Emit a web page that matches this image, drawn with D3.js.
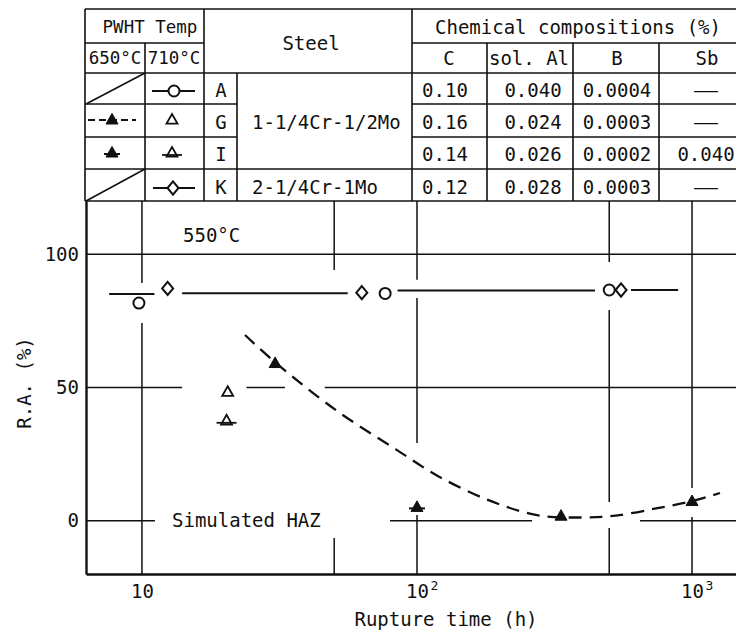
<!DOCTYPE html>
<html><head><meta charset="utf-8">
<script src="https://cdn.jsdelivr.net/npm/d3@7"></script>
<style>
html,body{margin:0;padding:0;background:#fff;}
svg{display:block;font-family:"DejaVu Sans Mono",monospace;}
</style></head><body>
<svg id="chart" width="736" height="632"></svg>
<script>
// ---------------- data ----------------
const xDomain = [6.26, 1445];
const yDomain = [-20, 120];
const xTicks = [10, 100, 1000];
const xTickBase = ["10", "10", "10"];
const xTickExp = ["", "2", "3"];
const yTicks = [0, 50, 100];

const steelCodes = ["A", "G", "I", "K"];
const steelNames = ["1-1/4Cr-1/2Mo", "2-1/4Cr-1Mo"];
const compHeaders = ["C", "sol. Al", "B", "Sb"];
const compC  = ["0.10", "0.16", "0.14", "0.12"];
const compAl = ["0.040", "0.024", "0.026", "0.028"];
const compB  = ["0.0004", "0.0003", "0.0002", "0.0003"];
const compSb = ["—", "—", "0.040", "—"];

// [rupture time (h), R.A. (%)]
const seriesA710 = [[9.75, 81.7], [76.6, 85.3], [500, 86.6]];
const seriesK710 = [[12.4, 87.2], [63, 85.6], [552, 86.6]];
const seriesG710 = [[20.5, 48.2]];
const seriesI710 = [[20.3, 37.5]];
const seriesG650 = [[30.5, 59.0], [334, 1.7], [1000, 7.2]];
const seriesI650 = [[100, 5.0]];
const trendG650 = [[23.7, 69.7], [30.7, 59.2], [51.2, 41.2], [84.6, 26.5], [119, 16.8],
                   [181, 7.8], [273, 2.1], [391, 1.2], [516, 1.8], [740, 4.6], [1000, 7.4], [1264, 10.4]];
// solid level line for 710°C: [t start, t end, R.A.]
const levelLine = [[7.6, 11.1, 85.1], [14, 56, 85.4], [85, 444, 86.4], [600, 890, 86.6]];

// grid segments (broken as in the original drawing)
const gridH = [
  {v: 100, segs: [[6.26, 1445]]},
  {v: 50,  segs: [[6.26, 14], [24, 33.1], [46.2, 1445]]},
  {v: 0,   segs: [[6.26, 11.15], [79.8, 262], [647, 1445]]}
];
const gridV = [
  {t: 10,   segs: [[120, 89.2], [74.2, -20]]},
  {t: 50,   segs: [[120, 94.1], [-6.5, -20]]},
  {t: 100,  segs: [[120, 90.4], [83.6, 29.2], [2.1, -20]]},
  {t: 500,  segs: [[120, 97.1], [79.1, 7.0], [-2.7, -20]]},
  {t: 1000, segs: [[120, 12.3], [1.4, -20]]}
];

// ---------------- layout ----------------
const svg = d3.select("#chart");
const INK = "#111";
const FS = 19;
const plot = {left: 86, right: 736, top: 201, bottom: 574};
const x = d3.scaleLog().domain(xDomain).range([plot.left, plot.right]);
const y = d3.scaleLinear().domain(yDomain).range([plot.bottom, plot.top]);

// custom symbol types (size = nominal width in px)
const triType = {draw(ctx, size) { const w = size; const h = w * 0.88;
  ctx.moveTo(0, -h * 0.62); ctx.lineTo(w / 2, h * 0.38); ctx.lineTo(-w / 2, h * 0.38); ctx.closePath(); }};
const diaType = {draw(ctx, size) { const w = size * 0.5, h = size * 0.6;
  ctx.moveTo(0, -h); ctx.lineTo(w, 0); ctx.lineTo(0, h); ctx.lineTo(-w, 0); ctx.closePath(); }};
const circType = {draw(ctx, size) { ctx.moveTo(size / 2, 0); ctx.arc(0, 0, size / 2, 0, 2 * Math.PI); }};

function marker(g, kind, cx, cy) {
  const gg = g.append("g").attr("transform", `translate(${cx},${cy})`);
  const sym = d3.symbol();
  if (kind === "circle") {
    gg.append("path").attr("d", sym.type(circType).size(11)()).attr("fill", "#fff").attr("stroke", INK).attr("stroke-width", 2);
  } else if (kind === "diamond") {
    gg.append("path").attr("d", sym.type(diaType).size(11)()).attr("fill", "#fff").attr("stroke", INK).attr("stroke-width", 2);
  } else if (kind === "openTri" || kind === "openTriBar") {
    gg.append("path").attr("d", sym.type(triType).size(11)()).attr("fill", "#fff").attr("stroke", INK).attr("stroke-width", 1.8);
    if (kind === "openTriBar") gg.append("line").attr("x1", -10).attr("x2", 10).attr("y1", 2).attr("y2", 2).attr("stroke", INK).attr("stroke-width", 1.8);
  } else if (kind === "fillTri" || kind === "fillTriBar") {
    gg.append("path").attr("d", sym.type(triType).size(12)()).attr("fill", INK).attr("stroke", INK).attr("stroke-width", 1);
    if (kind === "fillTriBar") gg.append("line").attr("x1", -8).attr("x2", 8).attr("y1", 1).attr("y2", 1).attr("stroke", INK).attr("stroke-width", 2);
  }
}

// ---------------- grid ----------------
const grid = svg.append("g").attr("stroke", INK).attr("stroke-width", 1.5);
gridH.forEach(gl => gl.segs.forEach(s => grid.append("line")
  .attr("x1", x(s[0])).attr("x2", x(s[1])).attr("y1", y(gl.v)).attr("y2", y(gl.v))));
gridV.forEach(gl => gl.segs.forEach(s => grid.append("line")
  .attr("x1", x(gl.t)).attr("x2", x(gl.t)).attr("y1", y(s[0])).attr("y2", y(s[1]))));

// ---------------- axes ----------------
const yAxis = d3.axisLeft(y).tickValues(yTicks).tickSize(0).tickPadding(7).tickFormat(d3.format("d"));
const gy = svg.append("g").attr("transform", `translate(${plot.left},0)`).call(yAxis);
gy.select(".domain").attr("stroke", INK).attr("stroke-width", 2.4);
gy.selectAll("text").attr("font-family", "DejaVu Sans Mono").attr("font-size", FS).attr("fill", INK);

const xAxis = d3.axisBottom(x).tickValues(xTicks).tickSize(0).tickPadding(11).tickFormat((d, i) => xTickBase[i]);
const gx = svg.append("g").attr("transform", `translate(0,${plot.bottom})`).call(xAxis);
gx.select(".domain").attr("stroke", INK).attr("stroke-width", 2.6);
gx.selectAll("text").attr("font-family", "DejaVu Sans Mono").attr("font-size", FS).attr("fill", INK);
gx.selectAll(".tick").each(function(d, i) {
  if (xTickExp[i]) d3.select(this).append("text").text(xTickExp[i])
    .attr("x", 17).attr("y", 16).attr("font-family", "DejaVu Sans Mono").attr("font-size", 13).attr("fill", INK);
});

// axis titles
svg.append("text").text("Rupture time (h)").attr("x", 446).attr("y", 626)
  .attr("text-anchor", "middle").attr("font-size", FS).attr("fill", INK);
svg.append("text").text("R.A. (%)").attr("transform", "translate(31,383) rotate(-90)")
  .attr("text-anchor", "middle").attr("font-size", FS).attr("fill", INK);

// annotations
svg.append("text").text("550°C").attr("x", 183).attr("y", 242).attr("font-size", FS).attr("fill", INK);
svg.append("text").text("Simulated HAZ").attr("x", 172).attr("y", 527).attr("font-size", FS).attr("fill", INK);

// ---------------- lines ----------------
const lv = svg.append("g").attr("stroke", INK).attr("stroke-width", 2);
levelLine.forEach(s => lv.append("line").attr("x1", x(s[0])).attr("x2", x(s[1])).attr("y1", y(s[2])).attr("y2", y(s[2])));

const trend = d3.line().x(d => x(d[0])).y(d => y(d[1])).curve(d3.curveCatmullRom.alpha(0.5));
svg.append("path").attr("d", trend(trendG650)).attr("fill", "none").attr("stroke", INK)
  .attr("stroke-width", 2.3).attr("stroke-dasharray", "13,8");

// ---------------- markers ----------------
const mk = svg.append("g");
seriesA710.forEach(d => marker(mk, "circle", x(d[0]), y(d[1])));
seriesK710.forEach(d => marker(mk, "diamond", x(d[0]), y(d[1])));
seriesG710.forEach(d => marker(mk, "openTri", x(d[0]), y(d[1])));
seriesI710.forEach(d => marker(mk, "openTriBar", x(d[0]), y(d[1])));
seriesG650.forEach(d => marker(mk, "fillTri", x(d[0]), y(d[1])));
seriesI650.forEach(d => marker(mk, "fillTriBar", x(d[0]), y(d[1])));

// ---------------- table ----------------
const T = svg.append("g");
const cx = [85, 145, 204, 237, 412, 487, 573, 659, 745];
const ry = [9, 43, 73, 104, 137, 169, 201];
const tl = T.append("g").attr("stroke", INK).attr("stroke-width", 1.6);
function L(x1, y1, x2, y2) { tl.append("line").attr("x1", x1).attr("y1", y1).attr("x2", x2).attr("y2", y2); }
L(cx[0], ry[0], cx[8], ry[0]);
L(cx[0], ry[1], cx[2], ry[1]); L(cx[4], ry[1], cx[8], ry[1]);
L(cx[0], ry[2], cx[8], ry[2]);
L(cx[0], ry[3], cx[3], ry[3]); L(cx[4], ry[3], cx[8], ry[3]);
L(cx[0], ry[4], cx[3], ry[4]); L(cx[4], ry[4], cx[8], ry[4]);
L(cx[0], ry[5], cx[8], ry[5]);
L(cx[0], ry[6], cx[8], ry[6]);
L(cx[0], ry[0], cx[0], ry[6]);
L(cx[1], ry[1], cx[1], ry[6]);
L(cx[2], ry[0], cx[2], ry[6]);
L(cx[3], ry[2], cx[3], ry[6]);
L(cx[4], ry[0], cx[4], ry[6]);
[5, 6, 7, 8].forEach(i => L(cx[i], ry[1], cx[i], ry[6]));
// diagonal "not tested" cells
L(cx[0] + 1, ry[3], cx[1], ry[2]);
L(cx[0] + 1, ry[6], cx[1], ry[5]);

function tx(t, xx, yy, anchor = "middle", fs = FS) {
  return T.append("text").text(t).attr("x", xx).attr("y", yy).attr("text-anchor", anchor)
    .attr("dominant-baseline", "central").attr("font-size", fs).attr("fill", INK);
}
tx("PWHT Temp", 150, 27, "middle", 17.5);
tx("650°C", 115, 58, "middle", 17.5);
tx("710°C", 174, 58, "middle", 17.5);
tx("Steel", 311, 43);
tx("Chemical compositions (%)", 578, 27);
const colC = [445, 533, 617, 706];
compHeaders.forEach((h, i) => tx(h, [449, 529, 617, 707][i], 58));
const rowC = [90, 122, 154, 187];
steelCodes.forEach((c, i) => tx(c, 221, rowC[i]));
tx(steelNames[0], 252, rowC[1], "start");
tx(steelNames[1], 252, rowC[3], "start");
[compC, compAl, compB, compSb].forEach((col, j) => col.forEach((v, i) => {
  const t = tx(v, colC[j], rowC[i]);
  if (v === "—") t.attr("textLength", 24).attr("lengthAdjust", "spacingAndGlyphs");
}));

// legend symbols inside table
const lg = T.append("g");
lg.append("line").attr("x1", 152).attr("x2", 195).attr("y1", 91).attr("y2", 91).attr("stroke", INK).attr("stroke-width", 2);
marker(lg, "circle", 174, 91);
lg.append("line").attr("x1", 88).attr("x2", 136).attr("y1", 120).attr("y2", 120).attr("stroke", INK).attr("stroke-width", 2).attr("stroke-dasharray", "7,4");
marker(lg, "fillTri", 112, 120);
marker(lg, "openTri", 172, 120);
marker(lg, "fillTriBar", 112, 153);
marker(lg, "openTriBar", 172, 153);
lg.append("line").attr("x1", 153).attr("x2", 195).attr("y1", 188).attr("y2", 188).attr("stroke", INK).attr("stroke-width", 2);
marker(lg, "diamond", 173, 188);
</script>
</body></html>
